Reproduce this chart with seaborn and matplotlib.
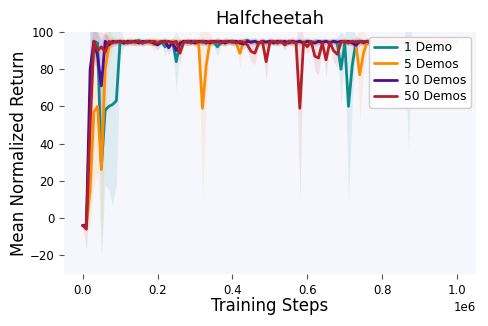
import numpy as np
import pandas as pd
import matplotlib
matplotlib.use("Agg")
import matplotlib.pyplot as plt
import seaborn as sns

steps = np.arange(0, 1_000_001, 10_000)

labels = ["1 Demo", "5 Demos", "10 Demos", "50 Demos"]
colors = ["#0b8a8a", "#ff8c00", "#4f0d94", "#b32025"]

demo1 = [-4, -4, 60, 95, 94, 27, 58, 60, 61, 63,
         95, 94, 95, 94.5, 95, 95.5, 94, 95, 94.5, 95,
         94.5, 95, 92, 94, 95, 84, 94, 95, 94.5, 95,
         95, 94.5, 95, 94, 95, 94.5, 92, 94.5, 95, 95,
         94.5, 95, 94, 95, 95.5, 94.5, 95, 94, 95, 94.5,
         95, 95, 94.5, 95, 94, 95, 95, 94.5, 95, 94,
         95, 94.5, 95, 95, 94, 95, 94.5, 95, 94, 80,
         94, 60, 82, 95, 94.5, 95, 94, 95, 95, 94.5,
         95, 94.5, 95, 95, 94, 95, 94.5, 80, 94, 95,
         94.5, 95, 95, 94, 95, 94.5, 95, 95, 94.5, 95, 95]
demo5 = [-4, -4, 15, 57, 60, 26, 80, 92, 95, 94.5,
         95, 94.5, 95, 95, 94, 95, 94.5, 95, 95, 93,
         95, 94.5, 95, 94, 95, 93, 95, 94.5, 95, 95,
         94.5, 93, 59, 82, 95, 94.5, 95, 95, 94, 95,
         95, 94, 88.5, 95, 94.5, 95, 95, 94.5, 95, 94,
         95, 94.5, 95, 95, 94.5, 95, 94, 95, 94.5, 95,
         95, 94, 95, 94.5, 95, 95, 94, 95, 94.5, 94,
         95, 94.5, 95, 93, 77, 88.5, 95, 94.5, 95, 95,
         94.5, 95, 95, 94, 95, 94.5, 95, 95, 94.5, 95,
         95, 94.5, 95, 95, 94, 95, 94.5, 95, 95, 94.5, 95]
demo10 = [-4, -4, 80, 95, 87, 71, 95, 93, 95, 94.5,
          95, 94, 95, 94.5, 95, 94, 95, 94.5, 95, 94,
          93, 94.5, 95, 91.5, 94.5, 90, 94, 95, 94.5, 95,
          94, 95, 94.5, 95, 94, 95, 94.5, 95, 94, 95,
          94.5, 95, 94, 93.5, 95, 94.5, 95, 94, 95, 94.5,
          95, 94, 95, 94.5, 95, 94, 95, 94.5, 95, 94,
          95, 94.5, 94, 95, 94.5, 95, 94, 95, 94.5, 95,
          94.5, 95, 94, 92.8, 95, 94.5, 95, 94, 95, 94.5,
          95, 94, 95, 94.5, 95, 94, 95, 94.5, 95, 94,
          95, 94.5, 95, 94, 95, 94.5, 95, 94, 95, 94.5, 95]
demo50 = [-4, -6, 50, 95, 90, 92, 89, 95, 94, 95,
          94.5, 95, 94, 95, 94.5, 95, 94, 95, 94.5, 95,
          94, 95, 94.5, 95, 94, 95, 88.6, 94.5, 95, 94,
          95, 94.5, 95, 94, 95, 94.5, 95, 94, 95, 94.5,
          95, 94, 95, 94.5, 93, 89.5, 88.6, 94, 95, 84,
          94.5, 95, 94, 95, 93, 95, 94.5, 94, 59, 94.5,
          92, 95, 87, 86, 94, 85, 94.5, 90, 88, 94.5,
          95, 94, 95, 94.5, 95, 94, 95, 94.5, 95, 94,
          95, 94.5, 95, 94, 95, 94.5, 95, 94, 95, 94.5,
          95, 94, 95, 94.5, 95, 94, 95, 94.5, 95, 94, 95]

spread1 = [1, 3, 40, 8, 15, 47, 40, 45, 54, 45,
           8, 2, 1.5, 2, 1.5, 2, 1.5, 2, 1.5, 2,
           2, 1.5, 5, 2, 1.5, 16, 2, 1.5, 2, 1.5,
           1.5, 2, 1.5, 2, 1.5, 2, 5, 1.5, 2, 1.5,
           2, 1.5, 2, 1.5, 2, 1.5, 2, 1.5, 2, 1.5,
           2, 1.5, 2, 1.5, 2, 1.5, 2, 1.5, 2, 1.5,
           2, 1.5, 2, 1.5, 2, 1.5, 2, 1.5, 3, 20,
           4, 51, 20, 3, 2, 1.5, 2, 1.5, 2, 1.5,
           2, 1.5, 2, 1.5, 2, 1.5, 3, 43, 3, 1.5,
           2, 1.5, 2, 1.5, 2, 1.5, 2, 1.5, 2, 1.5, 2]
spread5 = [1, 3, 20, 40, 35, 45, 30, 10, 3, 2,
           1.5, 2, 1.5, 2, 1.5, 2, 1.5, 2, 1.5, 4,
           2, 1.5, 2, 1.5, 2, 3, 2, 1.5, 2, 1.5,
           2, 4, 50, 20, 4, 1.5, 2, 1.5, 2, 1.5,
           2, 1.5, 8, 2, 1.5, 2, 1.5, 2, 1.5, 2,
           1.5, 2, 1.5, 2, 1.5, 2, 1.5, 2, 1.5, 2,
           1.5, 2, 1.5, 2, 1.5, 2, 1.5, 2, 1.5, 2,
           1.5, 2, 1.5, 4, 25, 12, 2, 1.5, 2, 1.5,
           2, 1.5, 2, 1.5, 2, 1.5, 2, 1.5, 2, 1.5,
           2, 1.5, 2, 1.5, 2, 1.5, 2, 1.5, 2, 1.5, 2]
spread10 = [1, 3, 30, 8, 12, 25, 5, 3, 2, 1.5,
            2, 1.5, 2, 1.5, 2, 1.5, 2, 1.5, 2, 1.5,
            3, 1.5, 2, 4, 2, 6, 2, 1.5, 2, 1.5,
            2, 1.5, 2, 1.5, 2, 1.5, 2, 1.5, 2, 1.5,
            2, 1.5, 2, 3, 2, 1.5, 2, 1.5, 2, 1.5,
            2, 1.5, 2, 1.5, 2, 1.5, 2, 1.5, 2, 1.5,
            2, 1.5, 2, 1.5, 2, 1.5, 2, 1.5, 2, 1.5,
            2, 1.5, 2, 4, 2, 1.5, 2, 1.5, 2, 1.5,
            2, 1.5, 2, 1.5, 2, 1.5, 2, 1.5, 2, 1.5,
            2, 1.5, 2, 1.5, 2, 1.5, 2, 1.5, 2, 1.5, 2]
spread50 = [1, 11, 40, 12, 10, 8, 10, 3, 2, 1.5,
            2, 1.5, 2, 1.5, 2, 1.5, 2, 1.5, 2, 1.5,
            2, 1.5, 2, 1.5, 2, 1.5, 6, 1.5, 2, 1.5,
            2, 1.5, 2, 1.5, 2, 1.5, 2, 1.5, 2, 1.5,
            2, 1.5, 2, 1.5, 3, 6, 6, 2, 1.5, 10,
            2, 1.5, 2, 1.5, 3, 1.5, 2, 2, 49, 2,
            4, 1.5, 8, 9, 2, 9, 2, 6, 7, 2,
            2, 1.5, 2, 1.5, 2, 1.5, 2, 1.5, 2, 1.5,
            2, 1.5, 2, 1.5, 2, 1.5, 2, 1.5, 2, 1.5,
            2, 1.5, 2, 1.5, 2, 1.5, 2, 1.5, 2, 1.5, 2]

means = [demo1, demo5, demo10, demo50]
spreads = [spread1, spread5, spread10, spread50]

frames = []
for lab, m in zip(labels, means):
    frames.append(pd.DataFrame({"step": steps, "value": m, "method": lab}))
df = pd.concat(frames, ignore_index=True)

sns.set_theme(style="ticks")
plt.rcParams["font.family"] = ["DejaVu Sans"]
plt.rcParams["text.color"] = "black"
plt.rcParams["axes.labelcolor"] = "black"
plt.rcParams["xtick.labelcolor"] = "black"
plt.rcParams["ytick.labelcolor"] = "black"

fig = plt.figure(figsize=(4.88, 3.26), dpi=100)
ax = fig.add_axes([0.131, 0.16, 0.844, 0.742])
ax.set_facecolor("#f6f7fd")

for lab, m, s, c in zip(labels, means, spreads, colors):
    m = np.asarray(m, float)
    s = np.asarray(s, float)
    ax.fill_between(steps, m - s, m + s, color=c, alpha=0.1, linewidth=0)

sns.lineplot(data=df, x="step", y="value", hue="method", hue_order=labels,
             palette=colors, linewidth=2, errorbar=None, ax=ax)

ax.set_ylim(-30, 100)
ax.set_xlim(-0.05e6, 1.05e6)
ax.set_yticks([-20, 0, 20, 40, 60, 80, 100])
ax.set_xticks([0, 0.2e6, 0.4e6, 0.6e6, 0.8e6, 1.0e6])
ax.tick_params(axis="both", labelsize=8.5, length=3.5, width=0.8, color="#555555",
               labelcolor="black")
ax.xaxis.get_offset_text().set_fontsize(8.5)
ax.xaxis.get_offset_text().set_color("black")
sns.despine(ax=ax, left=True, bottom=True)

ax.set_title("Halfcheetah", fontsize=13, color="black")
ax.set_xlabel("Training Steps", fontsize=12, labelpad=0, color="black")
ax.set_ylabel("Mean Normalized Return", fontsize=12, labelpad=1, color="black")

leg = ax.legend(loc="upper right", fontsize=8.8, frameon=True, borderaxespad=0.4,
                labelspacing=0.28, handlelength=1.9, framealpha=0.95,
                borderpad=0.35, handletextpad=0.6)
for text in leg.get_texts():
    text.set_color("black")
for line in leg.get_lines():
    line.set_linewidth(2)

fig.savefig("out.png", dpi=100)
